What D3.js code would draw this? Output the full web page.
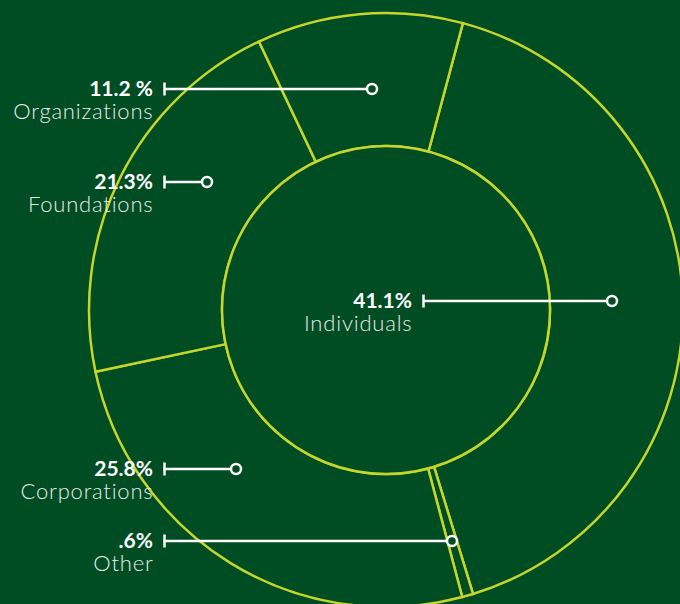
<!DOCTYPE html>
<html>
<head>
<meta charset="utf-8">
<script src="https://cdn.jsdelivr.net/npm/d3@7"></script>
<style>
  html, body { margin: 0; padding: 0; background: #004c23; }
  svg { display: block; }
</style>
</head>
<body>
<svg id="chart" width="680" height="604"></svg>
<script>
// Funding sources, clockwise from the top-right
const categories = ["Individuals", "Other", "Corporations", "Foundations", "Organizations"];
const shares = [41.1, 0.6, 25.8, 21.3, 11.2];
const shareLabels = ["41.1%", ".6%", "25.8%", "21.3%", "11.2 %"];

// Callout layout: line y, text right edge, marker x
const calloutY = [301, 541, 469, 182, 89];
const calloutTextX = [412, 153, 153, 153, 153];
const calloutMarkerX = [612, 452, 236, 207, 372];

const W = 680, H = 604;
const cx = 386, cy = 310;
const rInner = 164, rOuter = 297;
const bg = "#004c23", ring = "#c4d62c";

const svg = d3.select("#chart");

const pie = d3.pie()
  .sort(null)
  .value(d => d)
  .startAngle(15 * Math.PI / 180)
  .endAngle(15 * Math.PI / 180 + 2 * Math.PI);

const arc = d3.arc().innerRadius(rInner).outerRadius(rOuter);

const g = svg.append("g").attr("transform", `translate(${cx},${cy})`);

g.selectAll("path.slice")
  .data(pie(shares))
  .join("path")
  .attr("class", "slice")
  .attr("d", arc)
  .attr("fill", bg)
  .attr("stroke", ring)
  .attr("stroke-width", 2.5)
  .attr("stroke-linejoin", "miter");

// inner hole outline
g.append("circle")
  .attr("r", rInner)
  .attr("fill", bg)
  .attr("stroke", ring)
  .attr("stroke-width", 2.5);

// Callouts
const callouts = svg.append("g");
categories.forEach((name, i) => {
  const y = calloutY[i], tx = calloutTextX[i], tickX = tx + 11.5, mx = calloutMarkerX[i];
  const c = callouts.append("g");
  c.append("line")
    .attr("x1", tickX).attr("x2", mx - 5.5)
    .attr("y1", y).attr("y2", y)
    .attr("stroke", "#fff").attr("stroke-width", 2.5);
  c.append("line")
    .attr("x1", tickX).attr("x2", tickX)
    .attr("y1", y - 6.5).attr("y2", y + 6.5)
    .attr("stroke", "#fff").attr("stroke-width", 2.5);
  c.append("circle")
    .attr("cx", mx).attr("cy", y).attr("r", 5)
    .attr("fill", bg).attr("stroke", "#fff").attr("stroke-width", 2.5);
  c.append("text")
    .attr("x", tx).attr("y", y + 6.5)
    .attr("text-anchor", "end")
    .attr("font-family", "Lato, sans-serif")
    .attr("font-weight", 700)
    .attr("font-size", 21)
    .attr("fill", "#fff")
    .text(shareLabels[i]);
  c.append("text")
    .attr("x", tx + 0.5).attr("y", y + 30)
    .attr("text-anchor", "end")
    .attr("font-family", "Lato, sans-serif")
    .attr("font-weight", 300)
    .attr("font-size", 22)
    .attr("letter-spacing", 0.8)
    .attr("fill", "#e6ebe6")
    .text(name);
});
</script>
</body>
</html>
